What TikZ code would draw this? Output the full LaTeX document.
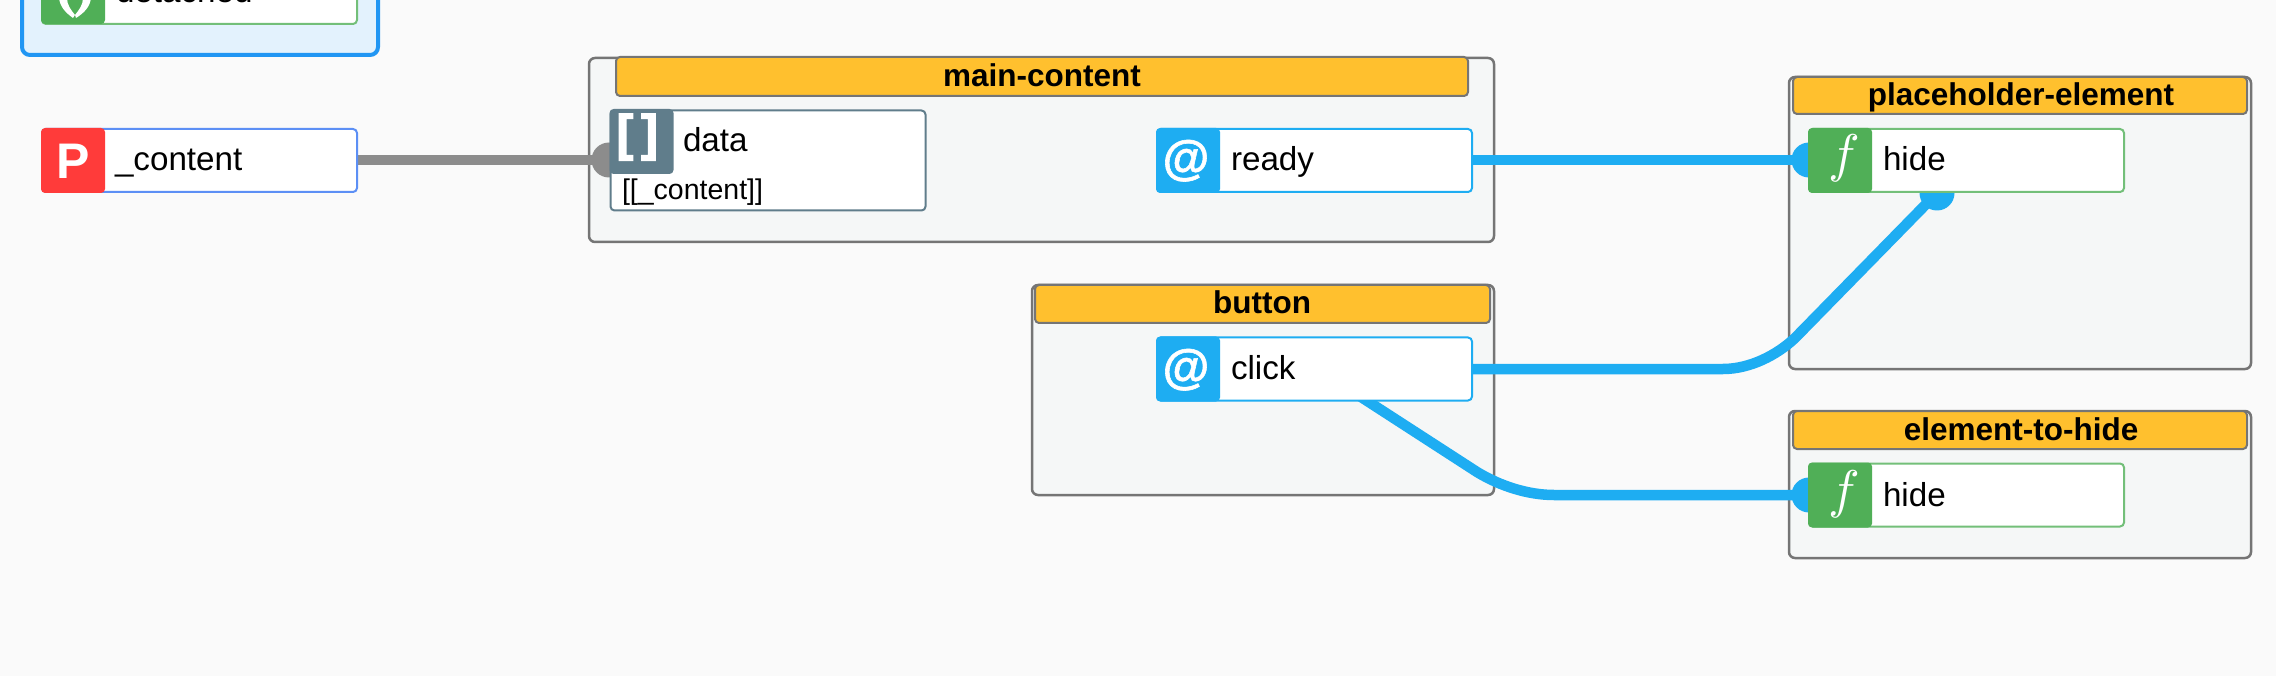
\documentclass[tikz,border=0pt]{standalone}
\usepackage{fontspec}
\setmainfont{Liberation Sans}
\newfontfamily\atfont[FakeBold=1.2]{Liberation Sans Bold}
\newfontfamily\brfont[FakeBold=3]{Liberation Sans Bold}
\definecolor{bgc}{HTML}{FAFAFA}
\definecolor{boxfill}{HTML}{F5F7F7}
\definecolor{boxline}{HTML}{757575}
\definecolor{headfill}{HTML}{FFC02E}
\definecolor{evt}{HTML}{1EADF2}
\definecolor{fun}{HTML}{50AF57}
\definecolor{prop}{HTML}{FF3B3A}
\definecolor{propline}{HTML}{5C8FF5}
\definecolor{arr}{HTML}{607D8B}
\definecolor{wire}{HTML}{8C8C8C}
\definecolor{hostline}{HTML}{2196F3}
\definecolor{hostfill}{HTML}{E3F2FD}
\newcommand{\fs}[1]{\fontsize{#1}{#1}\selectfont}
\newcommand{\fnglyph}{\scalebox{5.3}{$f$}}
\tikzset{
  x=1pt,y=-1pt,
  every node/.style={outer sep=0pt,inner sep=0pt},
  groupbox/.style={draw=boxline,fill=boxfill,line width=2.5pt,rounded corners=6pt},
  headbox/.style={draw=boxline,fill=headfill,line width=2pt,rounded corners=4pt},
  headtext/.style={font=\fs{31.5}\bfseries,anchor=base,text=black},
  portbox/.style={fill=white,line width=2pt,rounded corners=4pt,minimum width=315pt,minimum height=63pt},
  iconbox/.style={rounded corners=4pt,minimum width=64pt,minimum height=65pt},
  label/.style={font=\fs{33.2},anchor=base west,text=black},
  icontext/.style={font=\fs{48}\atfont,anchor=base,text=white},
  wireblue/.style={draw=evt,line width=10.5pt},
  wiregrey/.style={draw=wire,line width=10.5pt},
  dot/.style={circle,minimum size=35pt}
}
\begin{document}
\begin{tikzpicture}
\useasboundingbox (0,0) rectangle (2276,676);
\fill[bgc] (0,0) rectangle (2276,676);
% host element, cut by the top edge
\begin{scope}
\clip (0,0) rectangle (2276,676);
\draw[draw=hostline,fill=hostfill,line width=4pt,rounded corners=8pt] (22,-40) rectangle (378,55);
\node[portbox,draw=fun!80!white] (detached) at (199.5,-7.5) {};
\node[iconbox,fill=fun] (detachedicon) at (73,-8.5) {};
\fill[white] (59,-2) .. controls (60,7) and (66,13) .. (73,18) -- (75,15) .. controls (71,10) and (67,5) .. (67,-2) -- cycle;
\fill[white] (91,-2) .. controls (90,7) and (84,13) .. (76,18) -- (75,15) .. controls (79,10) and (83,5) .. (83,-2) -- cycle;
\node[label] (detachedtext) at (116,3) {detached};
\end{scope}
% groups
\draw[groupbox] (589,58) rectangle (1494,242);
\draw[headbox] (616,57) rectangle (1468,96);
\node[headtext] (maintitle) at (1042,87) {main-content};
\draw[groupbox] (1032,285) rectangle (1494,495);
\draw[headbox] (1035,285) rectangle (1490,323);
\node[headtext] (buttontitle) at (1262,314) {button};
\draw[groupbox] (1789,77) rectangle (2251,369);
\draw[headbox] (1793,77) rectangle (2247,114);
\node[headtext] (phtitle) at (2021,106) {placeholder-element};
\draw[groupbox] (1789,411) rectangle (2251,558);
\draw[headbox] (1793,411) rectangle (2247,449);
\node[headtext] (hidetitle) at (2021,440) {element-to-hide};
% port anchors
\coordinate (dataport) at (609,160);
\coordinate (phport) at (1809,160);
\coordinate (phlower) at (1937,193);
\coordinate (hideport) at (1809,495);
\coordinate (clickout) at (1358,395);
\coordinate (contentout) at (357,160);
\coordinate (readyout) at (1472,160);
\coordinate (clickright) at (1472,369);
% connectors
\node[dot,fill=wire] (datadot) at (dataport) {};
\node[dot,fill=evt] (phdot) at (phport) {};
\node[dot,fill=evt] (phlowdot) at (phlower) {};
\node[dot,fill=evt] (hidedot) at (hideport) {};
\draw[wiregrey] (contentout) -- (datadot.center);
\draw[wireblue] (readyout) -- (phdot.center);
\draw[wireblue] (clickright) -- (1723,369) .. controls (1750,369) and (1777,355) .. (1795,338) -- (phlowdot.center);
\draw[wireblue] (clickout) -- (1477,472) .. controls (1500,486) and (1528,495) .. (1554,495) -- (hidedot.center);
% ports
\node[portbox,draw=propline] (content) at (199.5,160.5) {};
\node[iconbox,fill=prop] (contenticon) at (73,160.5) {};
\node[icontext,font=\fs{50}\bfseries] (contentP) at (73,179) {P};
\node[label] (contenttext) at (115,171) {\_content};

\node[portbox,draw=arr,minimum height=100pt] (data) at (768,160.5) {};
\node[iconbox,fill=arr] (dataicon) at (641.5,141.5) {};
\node[icontext,font=\fs{50}\brfont] (databrl) at (625,150) {[};
\node[icontext,font=\fs{50}\brfont] (databrr) at (649.5,150) {]};
\node[label] (datatext) at (683,152) {data};
\node[label,font=\fs{28.5}] (databind) at (622,200) {[[\_content]]};

\node[portbox,draw=evt] (ready) at (1314.5,160.5) {};
\node[iconbox,fill=evt] (readyicon) at (1188,160.5) {};
\node[icontext] (readyat) at (1186,174) {@};
\node[label] (readytext) at (1231,171) {ready};

\node[portbox,draw=evt] (click) at (1314.5,369) {};
\node[iconbox,fill=evt] (clickicon) at (1188,369) {};
\node[icontext] (clickat) at (1186,383) {@};
\node[label] (clicktext) at (1231,379) {click};

\node[portbox,draw=fun!80!white] (phhide) at (1966.5,160.5) {};
\node[iconbox,fill=fun] (phicon) at (1840,160.5) {};
\node[icontext,font=\fs{10}] (phf) at (1844,172) {\fnglyph};
\node[label] (phtext) at (1883,171) {hide};

\node[portbox,draw=fun!80!white] (hidehide) at (1966.5,495) {};
\node[iconbox,fill=fun] (hideicon) at (1840,495) {};
\node[icontext,font=\fs{10}] (hidef) at (1844,507) {\fnglyph};
\node[label] (hidetext) at (1883,506) {hide};
\end{tikzpicture}
\end{document}
